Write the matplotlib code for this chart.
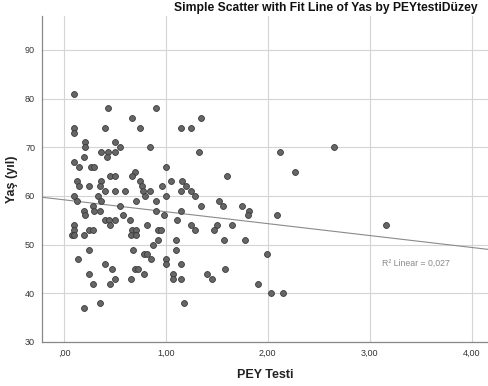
import numpy as np
import matplotlib.pyplot as plt

plt.rcParams['font.family'] = ['Liberation Sans', 'DejaVu Sans']

# PEY testi puanı (x) ve yaş (y)
pey = [0.10, 0.43, 0.90, 0.67, 0.10, 0.10, 0.40, 0.75, 0.21, 0.21,
       0.50, 0.55, 0.84, 0.36, 0.43, 0.50, 0.42, 0.20, 0.10, 0.15,
       0.27, 0.30, 1.00, 0.70, 0.67, 0.45, 0.50, 0.13, 0.36, 0.75,
       0.15, 0.25, 0.35, 0.77, 0.96, 0.40, 0.50, 0.60, 0.78, 0.84,
       0.10, 0.13, 0.33, 0.36, 0.80, 1.00, 0.71, 0.90, 0.29, 0.55,
       0.20, 0.21, 0.30, 0.35, 0.90, 0.98, 0.58, 0.40, 0.44, 0.50,
       0.45, 0.65, 0.10, 0.10, 0.08, 0.10, 0.20, 0.25, 0.29, 0.82,
       0.67, 0.71, 0.66, 0.71, 0.92, 0.95, 0.92, 0.87, 0.25, 0.68,
       0.79, 0.82, 0.14, 0.85, 1.00, 1.00, 0.40, 0.47, 0.25, 0.70,
       0.73, 0.79, 0.50, 0.66, 0.29, 0.45, 0.35, 0.20,
       1.34, 1.15, 1.25, 1.33, 2.12, 2.27, 1.60, 1.05, 1.16, 1.20,
       1.15, 1.25, 1.29, 1.52, 1.56, 1.34, 1.75, 1.82, 1.15, 1.81,
       2.09, 1.11, 1.25, 1.29, 1.50, 1.47, 1.65, 1.10, 1.57, 1.78,
       1.10, 1.99, 1.15, 1.58, 1.07, 1.07, 1.15, 1.40, 1.45, 1.90,
       2.03, 2.15, 1.18, 2.65, 3.16]
yas = [81, 78, 78, 76, 74, 73, 74, 74, 71, 70,
       71, 70, 70, 69, 69, 69, 68, 68, 67, 66,
       66, 66, 66, 65, 64, 64, 64, 63, 63, 63,
       62, 62, 62, 62, 62, 61, 61, 61, 61, 61,
       60, 59, 60, 59, 60, 60, 59, 59, 58, 58,
       57, 56, 57, 57, 57, 56, 56, 55, 55, 55,
       54, 55, 54, 53, 52, 52, 52, 53, 53, 54,
       53, 53, 52, 52, 53, 53, 51, 50, 49, 49,
       48, 48, 47, 47, 47, 46, 46, 45, 44, 45,
       45, 44, 43, 43, 42, 42, 38, 37,
       76, 74, 74, 69, 69, 65, 64, 63, 63, 62,
       61, 61, 60, 59, 58, 58, 58, 57, 57, 56,
       56, 55, 54, 53, 54, 53, 54, 51, 51, 51,
       49, 48, 46, 45, 44, 43, 43, 44, 43, 42,
       40, 40, 38, 70, 54]

x_ticks = [0, 1, 2, 3, 4]
x_tick_labels = [',00', '1,00', '2,00', '3,00', '4,00']
y_ticks = [30, 40, 50, 60, 70, 80, 90]

fig = plt.figure(figsize=(4.88, 3.86), dpi=100)
ax = fig.add_axes([0.086, 0.114, 0.914, 0.845])

ax.scatter(pey, yas, s=18, color='#666666', edgecolors='#3a3a3a',
           linewidths=0.6, zorder=3)

# doğrusal uyum çizgisi
b, a = np.polyfit(pey, yas, 1)
xl = np.array([-0.3, 4.3])
ax.plot(xl, a + b * xl, color='#8a8a8a', lw=0.8, zorder=2)
ax.text(3.12, 46.2, 'R² Linear = 0,027', fontsize=6.3, color='#8a8a8a',
        va='center', ha='left')

ax.set_xlim(-0.215, 4.16)
ax.set_ylim(30, 97)
ax.set_xticks(x_ticks)
ax.set_xticklabels(x_tick_labels)
ax.set_yticks(y_ticks)
ax.tick_params(length=0, labelsize=6.5, labelcolor='#333333', pad=5)
ax.grid(True, color='#d4d4d4', lw=0.8, zorder=0)
ax.set_axisbelow(True)
for s in ['top', 'right']:
    ax.spines[s].set_visible(False)
for s in ['left', 'bottom']:
    ax.spines[s].set_color('#888888')
    ax.spines[s].set_linewidth(0.9)

ax.set_xlabel('PEY Testi', fontsize=9, fontweight='bold', color='#222222', labelpad=8)
ax.set_ylabel('Yaş (yıl)', fontsize=9, fontweight='bold', color='#222222', labelpad=5)
fig.text(0.668, 0.978, 'Simple Scatter with Fit Line of Yas by PEYtestiDüzey',
         ha='center', va='center', fontsize=8.7, fontweight='bold', color='#111111')

fig.savefig('out.png', dpi=100)
